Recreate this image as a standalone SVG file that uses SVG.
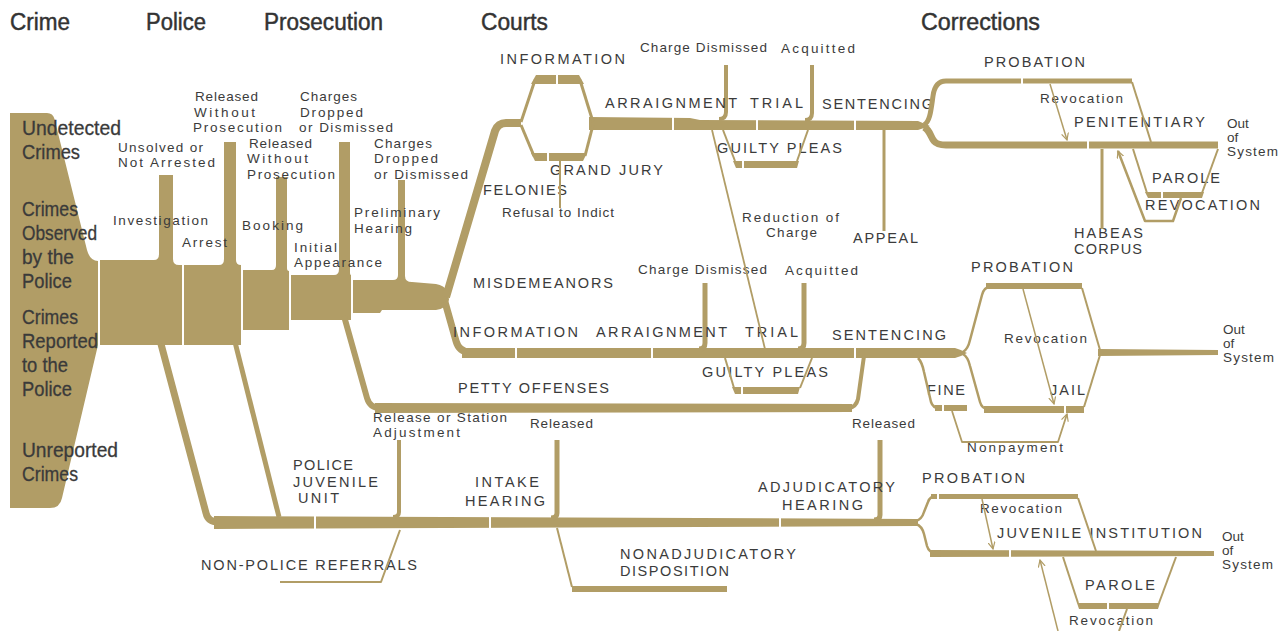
<svg xmlns="http://www.w3.org/2000/svg" width="1288" height="631" viewBox="0 0 1288 631">
<style>
.b{fill:#b19d66}
.k{fill:none;stroke:#b19d66;stroke-linejoin:round}
.k2{stroke-width:2}.k3{stroke-width:3}.k4{stroke-width:4}.k5{stroke-width:5}.k6{stroke-width:6}.k7{stroke-width:7}.k8{stroke-width:8}
.w{stroke:#fff;stroke-width:2}
.h{font-family:"Liberation Sans Narrow","Liberation Sans",Arial,sans-serif;font-size:23px;fill:#333;stroke:#333;stroke-width:0.45}
.c{font-family:"Liberation Sans Narrow","Liberation Sans",Arial,sans-serif;font-size:21px;fill:#3a3a3a;stroke:#3a3a3a;stroke-width:0.3}
.l{font-family:"Liberation Sans",Arial,sans-serif;font-size:13.5px;fill:#3b3b3b}
.u{font-family:"Liberation Sans",Arial,sans-serif;font-size:14.5px;fill:#3b3b3b}
</style>
<defs>
<marker id="ar" viewBox="0 0 8 8" refX="7" refY="4" markerWidth="8" markerHeight="8" markerUnits="userSpaceOnUse" orient="auto"><path d="M0,0.5 L7,4 L0,7.5" fill="none" stroke="#b19d66" stroke-width="1.2"/></marker>
</defs>
<rect width="1288" height="631" fill="#fff"/>

<g id="headers">
<text class="h" x="10" y="30" textLength="60" lengthAdjust="spacingAndGlyphs">Crime</text>
<text class="h" x="146" y="30" textLength="60" lengthAdjust="spacingAndGlyphs">Police</text>
<text class="h" x="264" y="30" textLength="119" lengthAdjust="spacingAndGlyphs">Prosecution</text>
<text class="h" x="481" y="30" textLength="67" lengthAdjust="spacingAndGlyphs">Courts</text>
<text class="h" x="921" y="30" textLength="119" lengthAdjust="spacingAndGlyphs">Corrections</text>
</g>

<g id="node-crimes">
<path class="b" d="M10,113 L47,113 Q53,113 54.5,119 L87,250 Q90,261 98,261 L98,345 L62,498 Q60,508 50,508 L10,508 Z"/>
<text class="c" x="22" y="135" textLength="99" lengthAdjust="spacingAndGlyphs">Undetected</text>
<text class="c" x="22" y="159" textLength="58" lengthAdjust="spacingAndGlyphs">Crimes</text>
<text class="c" x="22" y="216" textLength="56" lengthAdjust="spacingAndGlyphs">Crimes</text>
<text class="c" x="22" y="240" textLength="75" lengthAdjust="spacingAndGlyphs">Observed</text>
<text class="c" x="22" y="264" textLength="52" lengthAdjust="spacingAndGlyphs">by the</text>
<text class="c" x="22" y="288" textLength="50" lengthAdjust="spacingAndGlyphs">Police</text>
<text class="c" x="22" y="324" textLength="56" lengthAdjust="spacingAndGlyphs">Crimes</text>
<text class="c" x="22" y="348" textLength="76" lengthAdjust="spacingAndGlyphs">Reported</text>
<text class="c" x="22" y="372" textLength="46" lengthAdjust="spacingAndGlyphs">to the</text>
<text class="c" x="22" y="396" textLength="50" lengthAdjust="spacingAndGlyphs">Police</text>
<text class="c" x="22" y="457" textLength="96" lengthAdjust="spacingAndGlyphs">Unreported</text>
<text class="c" x="22" y="481" textLength="56" lengthAdjust="spacingAndGlyphs">Crimes</text>
</g>

<g id="node-investigation">
<path class="b" d="M100,260 L154,260 Q159,260 159,254 L159,175 L173,175 L173,259 Q173,265 179,265 L182,265 L182,345 L100,345 Z"/>
<text class="l" x="118" y="152" textLength="85" lengthAdjust="spacing">Unsolved or</text>
<text class="l" x="118" y="167" textLength="97" lengthAdjust="spacing">Not Arrested</text>
<text class="l" x="113" y="225" textLength="95" lengthAdjust="spacing">Investigation</text>
</g>

<g id="node-arrest">
<path class="b" d="M184,265 L219,265 Q224,265 224,259 L224,142 L236,142 L236,260 Q236,265 241,265 L241,345 L184,345 Z"/>
<text class="l" x="195" y="101" textLength="63" lengthAdjust="spacing">Released</text>
<text class="l" x="194" y="117" textLength="61" lengthAdjust="spacing">Without</text>
<text class="l" x="193" y="132" textLength="89" lengthAdjust="spacing">Prosecution</text>
<text class="l" x="182" y="247" textLength="45" lengthAdjust="spacing">Arrest</text>
</g>

<g id="node-booking">
<path class="b" d="M243,270 L272,270 Q276,270 276,265 L276,177 L287,177 L287,268 Q287,271 289,271 L289,330 L243,330 Z"/>
<text class="l" x="249" y="148" textLength="63" lengthAdjust="spacing">Released</text>
<text class="l" x="247" y="163" textLength="61" lengthAdjust="spacing">Without</text>
<text class="l" x="247" y="179" textLength="88" lengthAdjust="spacing">Prosecution</text>
<text class="l" x="242" y="230" textLength="61" lengthAdjust="spacing">Booking</text>
</g>

<g id="node-initial-appearance">
<path class="b" d="M291,275 L334,275 Q339,275 339,269 L339,142 L350,142 L350,273 Q350,275 351,275 L351,320 L291,320 Z"/>
<text class="l" x="300" y="101" textLength="57" lengthAdjust="spacing">Charges</text>
<text class="l" x="300" y="117" textLength="63" lengthAdjust="spacing">Dropped</text>
<text class="l" x="299" y="132" textLength="94" lengthAdjust="spacing">or Dismissed</text>
<text class="l" x="294" y="252" textLength="43" lengthAdjust="spacing">Initial</text>
<text class="l" x="294" y="267" textLength="88" lengthAdjust="spacing">Appearance</text>
</g>

<g id="node-preliminary-hearing">
<path class="b" d="M353,280 L393,280 Q398,280 398,275 L398,180 L405,180 L405,276 Q405,282 412,282 L436,284 Q444,285 448,292 L449,300 Q446,309 436,310 L382,310 L380,313 L353,313 Z"/>
<text class="l" x="374" y="148" textLength="58" lengthAdjust="spacing">Charges</text>
<text class="l" x="374" y="163" textLength="64" lengthAdjust="spacing">Dropped</text>
<text class="l" x="374" y="179" textLength="94" lengthAdjust="spacing">or Dismissed</text>
<text class="l" x="354" y="217" textLength="86" lengthAdjust="spacing">Preliminary</text>
<text class="l" x="354" y="233" textLength="58" lengthAdjust="spacing">Hearing</text>
</g>

<g id="node-felonies">
<path class="k k8" d="M446,297 L495,131 Q498,123 506,123 L521,123"/>
<text class="u" x="483" y="195" textLength="84" lengthAdjust="spacing">FELONIES</text>
</g>

<g id="node-felony-information">
<path class="b" d="M531,84 L536,75 L579,75 L584,84 Z"/>
<line class="w" x1="557" y1="73" x2="557" y2="86"/>
<text class="u" x="500" y="64" textLength="125" lengthAdjust="spacing">INFORMATION</text>
</g>

<g id="node-grand-jury">
<path class="b" d="M531,153 L587,153 L583,161 L535,161 Z"/>
<line class="w" x1="548" y1="151" x2="548" y2="163"/>
<text class="u" x="550" y="175" textLength="113" lengthAdjust="spacing">GRAND JURY</text>
<text class="l" x="502" y="217" textLength="112" lengthAdjust="spacing">Refusal to Indict</text>
</g>

<g id="node-felony-trial">
<path class="b" d="M589,117 L690,118 L700,120 L918,121 L930,126 L918,130 L589,130 Z"/>
<path class="k k4" d="M726,65 L726,112 Q726,119 719,119"/>
<path class="k k4" d="M812,65 L812,113 Q812,120 805,120"/>
<line class="w" x1="673" y1="114" x2="673" y2="133"/>
<line class="w" x1="757" y1="116" x2="757" y2="133"/>
<line class="w" x1="855" y1="116" x2="855" y2="133"/>
<text class="l" x="640" y="52" textLength="127" lengthAdjust="spacing">Charge Dismissed</text>
<text class="l" x="781" y="53" textLength="74" lengthAdjust="spacing">Acquitted</text>
<text class="u" x="605" y="108" textLength="132" lengthAdjust="spacing">ARRAIGNMENT</text>
<text class="u" x="750" y="108" textLength="53" lengthAdjust="spacing">TRIAL</text>
<text class="u" x="822" y="109" textLength="111" lengthAdjust="spacing">SENTENCING</text>
</g>

<g id="node-felony-guilty-pleas">
<path class="b" d="M733,161 L799,161 L797,168 L736,168 Z"/>
<line class="w" x1="743" y1="159" x2="743" y2="170"/>
<text class="u" x="717" y="153" textLength="125" lengthAdjust="spacing">GUILTY PLEAS</text>
<text class="l" x="742" y="222" textLength="97" lengthAdjust="spacing">Reduction of</text>
<text class="l" x="766" y="237" textLength="51" lengthAdjust="spacing">Charge</text>
<text class="u" x="853" y="243" textLength="65" lengthAdjust="spacing">APPEAL</text>
</g>

<g id="node-felony-probation">
<path class="k k5" d="M924,125 C930,122 931,110 933,96 Q935,81 946,81 L1132,81"/>
<line class="w" x1="1022" y1="77" x2="1022" y2="85"/>
<text class="u" x="984" y="67" textLength="101" lengthAdjust="spacing">PROBATION</text>
<text class="l" x="1040" y="103" textLength="83" lengthAdjust="spacing">Revocation</text>
</g>

<g id="node-penitentiary">
<path class="k k7" d="M924,127 C930,130 931,138 934,141 Q937,145 946,145 L1218,145"/>
<line class="w" x1="1088" y1="140" x2="1088" y2="150"/>
<text class="u" x="1074" y="127" textLength="131" lengthAdjust="spacing">PENITENTIARY</text>
<text class="l" x="1227" y="128">Out</text>
<text class="l" x="1227" y="142">of</text>
<text class="l" x="1227" y="156" textLength="51" lengthAdjust="spacing">System</text>
</g>

<g id="node-felony-parole">
<path class="b" d="M1145,192 L1204,192 L1202,198 L1148,198 Z"/>
<line class="w" x1="1162" y1="190" x2="1162" y2="200"/>
<text class="u" x="1152" y="183" textLength="68" lengthAdjust="spacing">PAROLE</text>
<text class="u" x="1145" y="210" textLength="115" lengthAdjust="spacing">REVOCATION</text>
<text class="u" x="1074" y="238" textLength="69" lengthAdjust="spacing">HABEAS</text>
<text class="u" x="1074" y="254" textLength="68" lengthAdjust="spacing">CORPUS</text>
</g>

<g id="node-misdemeanors">
<path class="k k7" d="M445,302 L456,341 Q459,352 470,352"/>
<path class="b" d="M462,348 L955,348 Q962,350 967,353 Q962,356 955,358 L462,358 Z"/>
<path class="k k5" d="M705,283 L705,343 Q705,349 699,349"/>
<path class="k k5" d="M804,283 L804,343 Q804,349 798,349"/>
<line class="w" x1="516" y1="345" x2="516" y2="361"/>
<line class="w" x1="652" y1="345" x2="652" y2="361"/>
<line class="w" x1="855" y1="345" x2="855" y2="361"/>
<text class="u" x="473" y="288" textLength="140" lengthAdjust="spacing">MISDEMEANORS</text>
<text class="l" x="638" y="274" textLength="129" lengthAdjust="spacing">Charge Dismissed</text>
<text class="l" x="785" y="275" textLength="73" lengthAdjust="spacing">Acquitted</text>
<text class="u" x="453" y="337" textLength="125" lengthAdjust="spacing">INFORMATION</text>
<text class="u" x="596" y="337" textLength="131" lengthAdjust="spacing">ARRAIGNMENT</text>
<text class="u" x="745" y="337" textLength="53" lengthAdjust="spacing">TRIAL</text>
<text class="u" x="832" y="340" textLength="114" lengthAdjust="spacing">SENTENCING</text>
</g>

<g id="node-misdemeanor-guilty-pleas">
<path class="b" d="M732,387 L800,387 L798,394 L735,394 Z"/>
<line class="w" x1="742" y1="385" x2="742" y2="396"/>
<text class="u" x="702" y="377" textLength="126" lengthAdjust="spacing">GUILTY PLEAS</text>
</g>

<g id="node-petty-offenses">
<path class="k k6" d="M344,316 L367,398 Q370,408 380,408"/>
<path class="b" d="M375,403 L852,404 L852,412 L375,413 Z"/>
<path class="k k4" d="M849,408 Q856,407 858,399 L864,356"/>
<text class="u" x="458" y="393" textLength="151" lengthAdjust="spacing">PETTY OFFENSES</text>
</g>

<g id="node-misdemeanor-probation">
<path class="k k6" d="M986,286 L1082,286"/>
<text class="u" x="971" y="272" textLength="102" lengthAdjust="spacing">PROBATION</text>
<text class="l" x="1004" y="343" textLength="83" lengthAdjust="spacing">Revocation</text>
</g>

<g id="node-jail">
<path class="k k7" d="M984,409.5 L1084,409.5"/>
<line class="w" x1="1065" y1="405" x2="1065" y2="414"/>
<path class="b" d="M1098,349 L1218,350 L1218,355 L1098,356 Z"/>
<text class="u" x="1050" y="395" textLength="35" lengthAdjust="spacing">JAIL</text>
<text class="l" x="1223" y="334">Out</text>
<text class="l" x="1223" y="348">of</text>
<text class="l" x="1223" y="362" textLength="51" lengthAdjust="spacing">System</text>
</g>

<g id="node-fine">
<path class="k k6" d="M935,408 L967,408"/>
<line class="w" x1="943" y1="404" x2="943" y2="412"/>
<text class="u" x="927" y="395" textLength="38" lengthAdjust="spacing">FINE</text>
<text class="l" x="967" y="452" textLength="96" lengthAdjust="spacing">Nonpayment</text>
</g>

<g id="node-police-juvenile-unit">
<path class="k k7" d="M161,344 L206,513 Q208,522 218,522 L230,522"/>
<path class="b" d="M214,516 L918,519 L918,526 L214,529 Z"/>
<path class="k k5" d="M235,342 L279,517"/>
<path class="k k4" d="M399,440 L399,512 Q399,517 393,517"/>
<line class="w" x1="315" y1="513" x2="315" y2="532"/>
<text class="u" x="293" y="470" textLength="60" lengthAdjust="spacing">POLICE</text>
<text class="u" x="293" y="487" textLength="85" lengthAdjust="spacing">JUVENILE</text>
<text class="u" x="298" y="503" textLength="41" lengthAdjust="spacing">UNIT</text>
<text class="l" x="373" y="422" textLength="134" lengthAdjust="spacing">Release or Station</text>
<text class="l" x="373" y="437" textLength="87" lengthAdjust="spacing">Adjustment</text>
<text class="u" x="201" y="570" textLength="216" lengthAdjust="spacing">NON-POLICE REFERRALS</text>
</g>

<g id="node-intake-hearing">
<path class="k k5" d="M557,440 L557,513 Q557,518 551,518"/>
<line class="w" x1="490" y1="514" x2="490" y2="531"/>
<text class="u" x="475" y="487" textLength="64" lengthAdjust="spacing">INTAKE</text>
<text class="u" x="465" y="506" textLength="80" lengthAdjust="spacing">HEARING</text>
<text class="l" x="530" y="428" textLength="63" lengthAdjust="spacing">Released</text>
</g>

<g id="node-nonadjudicatory">
<path class="k k6" d="M572,589 L727,589"/>
<text class="u" x="620" y="559" textLength="176" lengthAdjust="spacing">NONADJUDICATORY</text>
<text class="u" x="620" y="576" textLength="109" lengthAdjust="spacing">DISPOSITION</text>
</g>

<g id="node-adjudicatory-hearing">
<path class="k k5" d="M880,440 L880,515 Q880,520 874,520"/>
<line class="w" x1="780" y1="515" x2="780" y2="530"/>
<text class="u" x="758" y="492" textLength="137" lengthAdjust="spacing">ADJUDICATORY</text>
<text class="u" x="782" y="510" textLength="81" lengthAdjust="spacing">HEARING</text>
<text class="l" x="852" y="428" textLength="63" lengthAdjust="spacing">Released</text>
</g>

<g id="node-juvenile-probation">
<path class="k k5" d="M931,496.5 L1078,496.5"/>
<line class="w" x1="938" y1="493" x2="938" y2="500"/>
<text class="u" x="922" y="483" textLength="103" lengthAdjust="spacing">PROBATION</text>
<text class="l" x="980" y="513" textLength="82" lengthAdjust="spacing">Revocation</text>
</g>

<g id="node-juvenile-institution">
<path class="b" d="M930,550 L1214,551 L1214,556 L930,557 Z"/>
<line class="w" x1="1010" y1="548" x2="1010" y2="559"/>
<text class="u" x="997" y="538" textLength="205" lengthAdjust="spacing">JUVENILE INSTITUTION</text>
<text class="l" x="1222" y="541">Out</text>
<text class="l" x="1222" y="555">of</text>
<text class="l" x="1222" y="569" textLength="51" lengthAdjust="spacing">System</text>
</g>

<g id="node-juvenile-parole">
<path class="b" d="M1077,603 L1160,603 L1158,609 L1079,609 Z"/>
<line class="w" x1="1108" y1="601" x2="1108" y2="611"/>
<text class="u" x="1085" y="590" textLength="70" lengthAdjust="spacing">PAROLE</text>
<text class="l" x="1069" y="625" textLength="84" lengthAdjust="spacing">Revocation</text>
</g>

<g id="connectors">
<line class="k k3" x1="521" y1="122" x2="535" y2="80"/>
<line class="k k3" x1="580" y1="80" x2="593" y2="122"/>
<line class="k k3" x1="521" y1="125" x2="534" y2="156"/>
<line class="k k3" x1="585" y1="156" x2="593" y2="125"/>
<line class="k k2" x1="560" y1="161" x2="560" y2="208"/>
<line class="k k2" x1="723" y1="130" x2="735" y2="161"/>
<line class="k k2" x1="797" y1="161" x2="808" y2="130"/>
<line class="k" stroke-width="1.8" x1="712" y1="130" x2="765" y2="349"/>
<line class="k k3" x1="884" y1="130" x2="884" y2="231"/>
<line class="k k2" x1="1132" y1="82" x2="1151" y2="142"/>
<line class="k" stroke-width="1.5" x1="1050" y1="84" x2="1067" y2="140" marker-end="url(#ar)"/>
<line class="k k2" x1="1133" y1="149" x2="1147" y2="193"/>
<line class="k k2" x1="1202" y1="193" x2="1218" y2="149"/>
<path class="k" stroke-width="2.5" d="M1181,198 L1173,221 L1145,221 L1118,151" marker-end="url(#ar)"/>
<line class="k k3" x1="1102" y1="149" x2="1102" y2="229"/>
<line class="k k2" x1="725" y1="358" x2="734" y2="388"/>
<line class="k k2" x1="800" y1="388" x2="812" y2="358"/>
<path class="k" stroke-width="2.5" d="M963,352 Q968,349 970,340 L982,295 Q984,287 990,287"/>
<line class="k k2" x1="1082" y1="288" x2="1100" y2="350"/>
<path class="k" stroke-width="2.5" d="M963,354 Q968,357 970,366 L980,402 Q982,409 988,409"/>
<line class="k k2" x1="1084" y1="407" x2="1100" y2="355"/>
<line class="k" stroke-width="1.5" x1="1023" y1="289" x2="1054" y2="404" marker-end="url(#ar)"/>
<path class="k" stroke-width="2.5" d="M918,358 Q922,362 924,372 L931,402 Q933,408 939,408"/>
<path class="k" stroke-width="1.8" d="M952,411 L962,442 L1058,442 L1067,414" marker-end="url(#ar)"/>
<path class="k k2" d="M280,582 L381,582 L400,530"/>
<line class="k k2" x1="557" y1="528" x2="572" y2="587"/>
<path class="k" stroke-width="2.5" d="M916,521 Q922,519 924,512 L928,502 Q930,496 936,496"/>
<line class="k k2" x1="1078" y1="498" x2="1096" y2="551"/>
<path class="k" stroke-width="2.5" d="M916,524 Q922,526 924,534 L927,546 Q929,553 936,553"/>
<line class="k" stroke-width="1.5" x1="982" y1="499" x2="993" y2="549" marker-end="url(#ar)"/>
<line class="k k2" x1="1063" y1="557" x2="1078" y2="603"/>
<line class="k k2" x1="1159" y1="603" x2="1176" y2="557"/>
<line class="k k2" x1="1127" y1="609" x2="1119" y2="631"/>
<line class="k" stroke-width="1.5" x1="1058" y1="631" x2="1040" y2="560" marker-end="url(#ar)"/>
</g>
</svg>
